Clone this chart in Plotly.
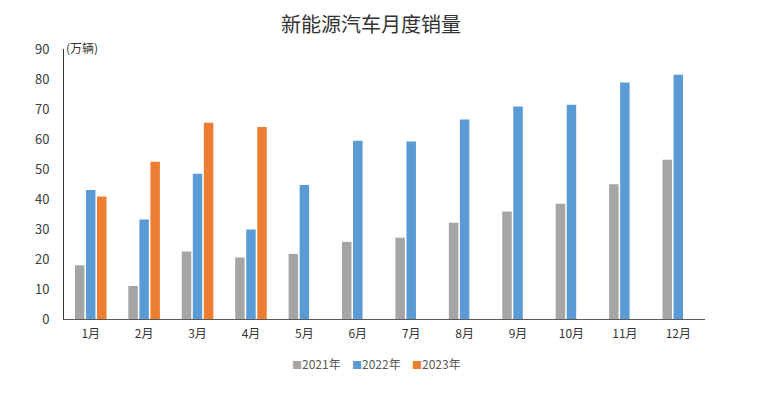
import plotly.graph_objects as go

months = ["1月", "2月", "3月", "4月", "5月", "6月", "7月", "8月", "9月", "10月", "11月", "12月"]
sales_2021 = [17.9, 11.0, 22.5, 20.5, 21.7, 25.7, 27.1, 32.1, 35.8, 38.4, 44.9, 53.1]
sales_2022 = [43.0, 33.2, 48.4, 29.8, 44.7, 59.4, 59.2, 66.5, 70.8, 71.4, 78.8, 81.4]
sales_2023 = [40.8, 52.4, 65.4, 64.0]
series_names = ["2021年", "2022年", "2023年"]
colors = ["#A5A5A5", "#5B9BD5", "#ED7D31"]

font_family = "Noto Sans CJK SC, sans-serif"

fig = go.Figure()
for name, vals, col in zip(series_names, [sales_2021, sales_2022, sales_2023], colors):
    fig.add_trace(go.Bar(
        x=months[:len(vals)], y=vals, name=name,
        marker=dict(color=col, line=dict(width=0)),
    ))

fig.update_layout(
    width=760, height=395,
    paper_bgcolor="white", plot_bgcolor="white",
    margin=dict(l=56, r=63, t=41, b=84),
    barmode="group", bargap=0.38, bargroupgap=0.14,
    title=dict(text="新能源汽车月度销量", x=0.4776, xanchor="center", y=0.958, yanchor="middle",
               font=dict(family=font_family, size=20, color="#333333")),
    font=dict(family=font_family, size=12, color="#404040"),
    showlegend=False,
    xaxis=dict(categoryorder="array", categoryarray=months, showgrid=False,
               showline=True, linecolor="#595959", linewidth=1, ticks="",
               ticklabelstandoff=4,
               tickfont=dict(size=12, color="#333333")),
    yaxis=dict(range=[0, 90], dtick=10, showgrid=False, zeroline=False,
               showline=True, linecolor="#333333", linewidth=1, ticks="",
               ticklabelstandoff=11,
               tickfont=dict(size=13, color="#404040")),
)
fig.add_annotation(text="(万辆)", xref="paper", yref="paper", x=0.0, y=1.004,
                   xanchor="left", yanchor="middle", showarrow=False,
                   font=dict(size=12, color="#333333"))

# legend drawn as text entries (coloured square + series name)
legend_x = [0.3526, 0.446, 0.540]
for name, col, lx in zip(series_names, colors, legend_x):
    fig.add_annotation(
        text=f'<span style="color:{col}; font-size:10px">■</span>{name}',
        xref="paper", yref="paper", x=lx, y=-0.163,
        xanchor="left", yanchor="middle", showarrow=False,
        font=dict(size=12, color="#595959"),
    )

fig.write_html("out.html")
